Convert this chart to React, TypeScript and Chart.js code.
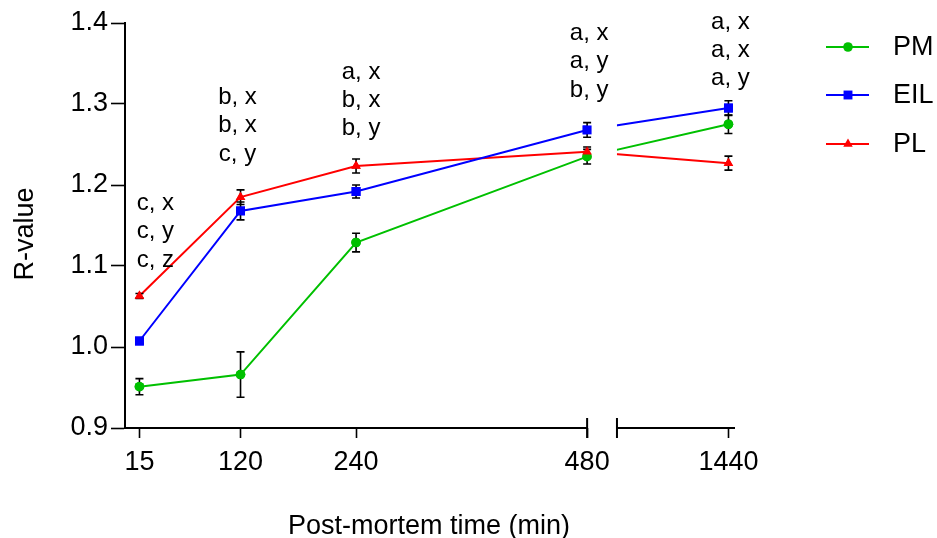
import React, { useEffect, useRef } from 'react';
import { Chart, registerables } from 'chart.js';

Chart.register(...registerables);

// ---------- data ----------
const times = [15, 120, 240, 480, 1440];
const xTickLabels = ['15', '120', '240', '480', '1440'];
const yTicks = [0.9, 1.0, 1.1, 1.2, 1.3, 1.4];
const seriesNames = ['PM', 'EIL', 'PL'];
const pmValues = [0.951, 0.966, 1.129, 1.235, 1.275];
const pmErrors = [0.01, 0.028, 0.0115, 0.009, 0.0115];
const eilValues = [1.0074, 1.168, 1.192, 1.268, 1.295];
const eilErrors = [0.003, 0.011, 0.008, 0.009, 0.009];
const plValues = [1.063, 1.185, 1.2235, 1.241, 1.227];
const plErrors = [0.003, 0.009, 0.0086, 0.006, 0.0086];
const letterLabels = [
  ['c, x', 'c, y', 'c, z'],
  ['b, x', 'b, x', 'c, y'],
  ['a, x', 'b, x', 'b, y'],
  ['a, x', 'a, y', 'b, y'],
  ['a, x', 'a, x', 'a, y'],
];
const xTitle = 'Post-mortem time (min)';
const yTitle = 'R-value';

// ---------- layout / style ----------
const W = 937;
const H = 538;
const BREAK_FROM = 480;
const BREAK_RESUME = 511;
const POST_BREAK_SCALE = 0.1206;
const X_MAX = 633.6;
const letterTopValue = [1.169, 1.3, 1.331, 1.379, 1.393];
const letterDx = [16, -3, 5, 2, 2];
const LETTER_STEP = 28.3;
const FONT = '"Liberation Sans", Arial, sans-serif';
const colors = ['#00c000', '#0000ff', '#ff0000'];
const pointStyles = ['circle', 'rect', 'triangle'];
const pointRadii = [4.8, 6.3, 5.5];

const xMap = (t: number) =>
  t <= BREAK_FROM ? t : BREAK_RESUME + (t - BREAK_FROM) * POST_BREAK_SCALE;

const valueSets = [pmValues, eilValues, plValues];
const errorSets = [pmErrors, eilErrors, plErrors];

function drawMarker(ctx: CanvasRenderingContext2D, style: string, x: number, y: number, r: number, color: string) {
  ctx.save();
  ctx.fillStyle = color;
  ctx.beginPath();
  if (style === 'circle') {
    ctx.arc(x, y, r, 0, Math.PI * 2);
  } else if (style === 'rect') {
    const s = r * Math.SQRT1_2;
    ctx.rect(x - s, y - s, 2 * s, 2 * s);
  } else {
    for (let k = 0; k < 3; k++) {
      const a = (k * 2 * Math.PI) / 3;
      const px = x + Math.sin(a) * r;
      const py = y - Math.cos(a) * r;
      if (k === 0) ctx.moveTo(px, py);
      else ctx.lineTo(px, py);
    }
    ctx.closePath();
  }
  ctx.fill();
  ctx.restore();
}

const decorPlugin = {
  id: 'decor',
  beforeDatasetsDraw(chart: any) {
    const { ctx } = chart;
    const x = chart.scales.x;
    const g0 = x.getPixelForValue(BREAK_FROM);
    const g1 = x.getPixelForValue(BREAK_RESUME);
    ctx.save();
    ctx.beginPath();
    ctx.rect(0, 0, g0, chart.height);
    ctx.rect(g1, 0, chart.width - g1, chart.height);
    ctx.clip();
  },
  afterDatasetsDraw(chart: any) {
    const { ctx, chartArea } = chart;
    ctx.restore();
    const xs = chart.scales.x;
    const ys = chart.scales.y;

    // error bars
    ctx.save();
    ctx.strokeStyle = '#000';
    ctx.lineWidth = 1.6;
    valueSets.forEach((vals, si) => {
      vals.forEach((v, i) => {
        const e = errorSets[si][i];
        const px = xs.getPixelForValue(xMap(times[i]));
        const yTop = ys.getPixelForValue(v + e);
        const yBot = ys.getPixelForValue(v - e);
        ctx.beginPath();
        ctx.moveTo(px, yTop);
        ctx.lineTo(px, yBot);
        ctx.moveTo(px - 4, yTop);
        ctx.lineTo(px + 4, yTop);
        ctx.moveTo(px - 4, yBot);
        ctx.lineTo(px + 4, yBot);
        ctx.stroke();
      });
    });
    ctx.restore();

    // markers on top
    chart.data.datasets.forEach((_ds: any, i: number) => {
      const meta = chart.getDatasetMeta(i);
      meta.data.forEach((p: any) => p.draw(ctx, chartArea));
    });

    // broken x axis
    const g0 = xs.getPixelForValue(BREAK_FROM);
    const g1 = xs.getPixelForValue(BREAK_RESUME);
    const yb = chartArea.bottom;
    ctx.save();
    ctx.strokeStyle = '#000';
    ctx.lineWidth = 2;
    ctx.beginPath();
    ctx.moveTo(chartArea.left, yb);
    ctx.lineTo(g0, yb);
    ctx.moveTo(g0, yb - 10);
    ctx.lineTo(g0, yb + 10);
    ctx.moveTo(g1, yb - 10);
    ctx.lineTo(g1, yb + 10);
    ctx.moveTo(g1, yb);
    ctx.lineTo(chartArea.right, yb);
    ctx.stroke();
    ctx.restore();

    // significance letters
    ctx.save();
    ctx.fillStyle = '#000';
    ctx.font = `24px ${FONT}`;
    ctx.textAlign = 'center';
    ctx.textBaseline = 'alphabetic';
    letterLabels.forEach((lines, i) => {
      const px = xs.getPixelForValue(xMap(times[i])) + letterDx[i];
      const py0 = ys.getPixelForValue(letterTopValue[i]);
      lines.forEach((t, k) => ctx.fillText(t, px, py0 + k * LETTER_STEP));
    });
    ctx.restore();

    // legend
    ctx.save();
    ctx.font = `27px ${FONT}`;
    ctx.textAlign = 'left';
    ctx.textBaseline = 'middle';
    const legendRows = [47, 95, 144];
    seriesNames.forEach((name, i) => {
      const ly = legendRows[i];
      ctx.strokeStyle = colors[i];
      ctx.lineWidth = 2;
      ctx.beginPath();
      ctx.moveTo(826, ly);
      ctx.lineTo(869, ly);
      ctx.stroke();
      drawMarker(ctx, pointStyles[i], 848, ly, pointRadii[i], colors[i]);
      ctx.fillStyle = '#000';
      ctx.fillText(name, 893, ly + 1);
    });
    ctx.restore();

    // axis titles
    ctx.save();
    ctx.fillStyle = '#000';
    ctx.font = `27px ${FONT}`;
    ctx.textAlign = 'center';
    ctx.textBaseline = 'alphabetic';
    ctx.fillText(xTitle, (chartArea.left + chartArea.right) / 2 - 1, 534);
    ctx.translate(33, 234);
    ctx.rotate(-Math.PI / 2);
    ctx.fillText(yTitle, 0, 0);
    ctx.restore();
  },
};

export default function App() {
  const ref = useRef<HTMLCanvasElement>(null);
  useEffect(() => {
    if (!ref.current) return;
    const datasets = seriesNames.map((name, si) => ({
      label: name,
      data: times.map((t, i) => ({ x: xMap(t), y: valueSets[si][i] })),
      borderColor: colors[si],
      backgroundColor: colors[si],
      borderWidth: 2,
      pointStyle: pointStyles[si] as any,
      pointRadius: pointRadii[si],
      pointBorderWidth: 0,
      pointBackgroundColor: colors[si],
      tension: 0,
      fill: false,
    }));
    const chart = new Chart(ref.current, {
      type: 'line',
      data: { datasets },
      plugins: [decorPlugin as any],
      options: {
        responsive: false,
        animation: false,
        devicePixelRatio: 1,
        layout: { padding: { left: 0, top: 23, right: W - 735, bottom: 0 } },
        plugins: {
          legend: { display: false },
          tooltip: { enabled: false },
        },
        scales: {
          x: {
            type: 'linear',
            min: 0,
            max: X_MAX,
            afterFit: (s: any) => {
              s.height = 110;
            },
            afterBuildTicks: (s: any) => {
              s.ticks = times.map((t) => ({ value: xMap(t) }));
            },
            border: { display: false },
            grid: {
              drawOnChartArea: false,
              drawTicks: true,
              tickLength: 10,
              tickWidth: 1.6,
              tickColor: '#000',
              color: '#000',
            },
            ticks: {
              autoSkip: false,
              maxRotation: 0,
              minRotation: 0,
              padding: 8,
              color: '#000',
              font: { family: FONT, size: 27 },
              callback: (_v: any, i: number) => xTickLabels[i],
            },
          },
          y: {
            type: 'linear',
            min: 0.9,
            max: 1.4,
            afterFit: (s: any) => {
              s.width = 125;
            },
            afterBuildTicks: (s: any) => {
              s.ticks = yTicks.map((v) => ({ value: v }));
            },
            border: { display: true, color: '#000', width: 2 },
            grid: {
              drawOnChartArea: false,
              drawTicks: true,
              tickLength: 14,
              tickWidth: 1.6,
              tickColor: '#000',
              color: '#000',
            },
            ticks: {
              padding: 3,
              color: '#000',
              font: { family: FONT, size: 27 },
              callback: (v: any) => Number(v).toFixed(1),
            },
          },
        },
      },
    });
    return () => chart.destroy();
  }, []);
  return (
    <div style={{ position: 'fixed', left: 0, top: 0, width: W, height: H, background: '#fff' }}>
      <canvas ref={ref} width={W} height={H} style={{ display: 'block' }} />
    </div>
  );
}
